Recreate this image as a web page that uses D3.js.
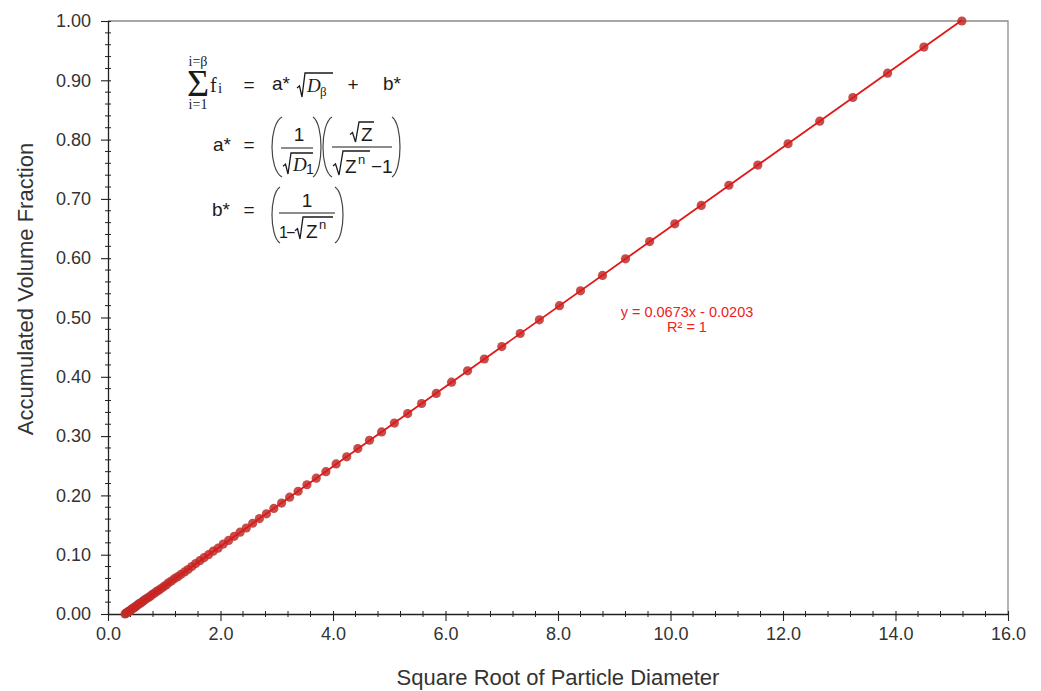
<!DOCTYPE html>
<html><head><meta charset="utf-8">
<script src="https://cdn.jsdelivr.net/npm/d3@7"></script>
<style>body{margin:0;background:#fff}svg{display:block}</style>
</head><body><svg id="c" width="1041" height="691"></svg>
<script>
// ---- data ----
const sqrtDiameter = [0.303,0.317,0.332,0.347,0.363,0.380,0.398,0.416,0.436,0.456,0.477,0.500,0.523,0.547,0.573,0.599,0.627,0.656,0.687,0.719,0.753,0.788,0.824,0.863,0.903,0.945,0.989,1.035,1.083,1.134,1.186,1.242,1.299,1.360,1.423,1.490,1.559,1.632,1.707,1.787,1.870,1.957,2.049,2.144,2.244,2.348,2.458,2.572,2.692,2.817,2.948,3.086,3.229,3.380,3.537,3.702,3.874,4.055,4.244,4.441,4.648,4.864,5.091,5.328,5.576,5.836,6.108,6.392,6.690,7.001,7.328,7.669,8.026,8.400,8.791,9.200,9.629,10.077,10.547,11.038,11.552,12.090,12.653,13.242,13.859,14.505,15.180];
const accumulatedFraction = [0.000,0.001,0.002,0.003,0.004,0.005,0.006,0.008,0.009,0.010,0.012,0.013,0.015,0.017,0.018,0.020,0.022,0.024,0.026,0.028,0.030,0.033,0.035,0.038,0.040,0.043,0.046,0.049,0.053,0.056,0.060,0.063,0.067,0.071,0.075,0.080,0.085,0.090,0.095,0.100,0.106,0.111,0.118,0.124,0.131,0.138,0.145,0.153,0.161,0.169,0.178,0.187,0.197,0.207,0.218,0.229,0.240,0.253,0.265,0.279,0.293,0.307,0.322,0.338,0.355,0.372,0.391,0.410,0.430,0.451,0.473,0.496,0.520,0.545,0.571,0.599,0.628,0.658,0.689,0.723,0.757,0.793,0.831,0.871,0.912,0.956,1.000];
const xTickValues = [0,2,4,6,8,10,12,14,16];
const yTickValues = [0,0.1,0.2,0.3,0.4,0.5,0.6,0.7,0.8,0.9,1.0];
const trendSlope = 0.0673;
const trendIntercept = -0.0203;
const trendLabel = ["y = 0.0673x - 0.0203", "R\u00B2 = 1"];
const xTitle = "Square Root of Particle Diameter";
const yTitle = "Accumulated Volume Fraction";

// ---- chart ----
const SANS = "'Liberation Sans', Arial, sans-serif";
const SERIF = "'Liberation Serif', 'Times New Roman', serif";
const svg = d3.select("#c");
const x = d3.scaleLinear().domain([0,16]).range([108,1008]);
const y = d3.scaleLinear().domain([0,1]).range([614,21]);
const X0 = x.range()[0], X1 = x.range()[1], Y0 = y.range()[0], Y1 = y.range()[1];

// frame top/right
svg.append("path").attr("d",`M${X0},${Y1}H${X1}V${Y0}`).attr("fill","none").attr("stroke","#8a8a8a").attr("stroke-width",1.3);

// axes
const xAxis = d3.axisBottom(x).tickValues(xTickValues).tickFormat(d3.format(".1f")).tickSizeInner(7).tickSizeOuter(0).tickPadding(6);
const yAxis = d3.axisLeft(y).tickValues(yTickValues).tickFormat(d3.format(".2f")).tickSizeInner(7).tickSizeOuter(0).tickPadding(10);
const gx = svg.append("g").attr("transform",`translate(0,${Y0})`).call(xAxis);
const gy = svg.append("g").attr("transform",`translate(${X0},0)`).call(yAxis);
[gx,gy].forEach(g=>{
  g.select(".domain").attr("stroke","#222").attr("stroke-width",1.3);
  g.selectAll(".tick line").attr("stroke","#222").attr("stroke-width",1.1);
  g.selectAll(".tick text").attr("fill","#333").style("font-family",SANS).style("font-size","18px");
});
// inner part of major ticks
gx.selectAll(".tick").append("line").attr("y1",0).attr("y2",-3).attr("stroke","#222").attr("stroke-width",1.1);
gy.selectAll(".tick").append("line").attr("x1",0).attr("x2",3).attr("stroke","#222").attr("stroke-width",1.1);
// minor ticks
const xMinor = d3.range(0,16.001,0.4).filter(v=>Math.abs(v/2-Math.round(v/2))>1e-6);
const yMinor = d3.range(0,1.0001,0.02).filter(v=>Math.abs(v*10-Math.round(v*10))>1e-6);
svg.append("g").selectAll("line").data(xMinor).join("line")
  .attr("x1",d=>x(d)).attr("x2",d=>x(d)).attr("y1",Y0-3).attr("y2",Y0+3).attr("stroke","#222").attr("stroke-width",1);
svg.append("g").selectAll("line").data(yMinor).join("line")
  .attr("y1",d=>y(d)).attr("y2",d=>y(d)).attr("x1",X0-3).attr("x2",X0+3).attr("stroke","#222").attr("stroke-width",1);

// titles
svg.append("text").attr("x",558).attr("y",685).attr("text-anchor","middle")
  .style("font-family",SANS).style("font-size","22px").attr("fill","#333").text(xTitle);
svg.append("text").attr("transform","translate(33,289) rotate(-90)").attr("text-anchor","middle")
  .style("font-family",SANS).style("font-size","22px").attr("fill","#333").text(yTitle);

// markers
const pts = sqrtDiameter.map((v,i)=>[v,accumulatedFraction[i]]);
svg.append("g").selectAll("circle").data(pts).join("circle")
  .attr("cx",d=>x(d[0])).attr("cy",d=>y(d[1])).attr("r",4.6)
  .attr("fill","#bb2e2c").attr("fill-opacity",0.85);

// linear trendline
const xMin = d3.min(sqrtDiameter), xMax = d3.max(sqrtDiameter);
svg.append("line")
  .attr("x1",x(xMin)).attr("y1",y(trendSlope*xMin+trendIntercept))
  .attr("x2",x(xMax)).attr("y2",y(trendSlope*xMax+trendIntercept))
  .attr("stroke","#e01818").attr("stroke-width",1.8);

// trendline label
svg.append("g").selectAll("text").data(trendLabel).join("text")
  .attr("x",687).attr("y",(d,i)=>317+i*15).attr("text-anchor","middle")
  .style("font-family",SANS).style("font-size","14.5px").attr("fill","#f02020").text(d=>d);

// ---- formula block ----
const F = svg.append("g").attr("fill","#1a1a1a");
function t(xp,yp,str,size,fam,opts={}){
  const e = F.append("text").attr("x",xp).attr("y",yp).style("font-family",fam).style("font-size",size+"px").text(str);
  if(opts.anchor) e.attr("text-anchor",opts.anchor);
  if(opts.italic) e.style("font-style","italic");
  return e;
}
function radical(x0,xTop,xEnd,yTop,yBot){
  const yMid = yBot-(yBot-yTop)*0.42;
  const xb = (x0+xTop)/2+1;
  F.append("path").attr("d",`M${x0},${yMid+1}L${x0+2.5},${yMid-1}L${xb},${yBot}L${xTop},${yTop}H${xEnd}`)
    .attr("fill","none").attr("stroke","#1a1a1a").attr("stroke-width",1.3).attr("stroke-linejoin","miter");
}
function paren(xl,xr,top,bot,left){
  const h = bot-top;
  const c = (8*xl-2*xr)/6;
  const d = left
    ? `M${xr},${top}C${c},${top+h*0.12} ${c},${bot-h*0.12} ${xr},${bot}`
    : `M${xl},${top}C${(8*xr-2*xl)/6},${top+h*0.12} ${(8*xr-2*xl)/6},${bot-h*0.12} ${xl},${bot}`;
  F.append("path").attr("d",d).attr("fill","none").attr("stroke","#444").attr("stroke-width",1.2);
}
function bar(xa,xb,yp){
  F.append("line").attr("x1",xa).attr("x2",xb).attr("y1",yp).attr("y2",yp).attr("stroke","#1a1a1a").attr("stroke-width",1);
}
// line 1
t(198,66,"i=\u03B2",14,SERIF,{anchor:"middle"});
t(198,96,"\u03A3",38,SERIF,{anchor:"middle"});
t(198,109,"i=1",14,SERIF,{anchor:"middle"});
t(210,92,"f",20,SERIF);
t(218,93,"i",15,SERIF);
t(249,91,"=",19,SANS,{anchor:"middle"});
t(272,90,"a*",19,SANS);
radical(297,305,333,73,97);
t(307,92,"D",19,SERIF,{italic:true});
t(320,96,"\u03B2",13,SERIF);
t(353,91,"+",19,SANS,{anchor:"middle"});
t(383,90,"b*",19,SANS);
// line 2
t(213,151,"a*",19,SANS);
t(249,151,"=",19,SANS,{anchor:"middle"});
paren(272,282,117,177,true);
t(299,141,"1",19,SANS,{anchor:"middle"});
bar(281,313,148);
radical(283,291,313,153,174);
t(293,171,"D",19,SERIF,{italic:true});
t(306,174,"1",14,SANS);
paren(313,321,117,177,false);
paren(323,332,117,177,true);
radical(350,359,374,122,142);
t(361,141,"Z",19,SANS);
bar(332,392,147);
radical(333,343,370,151,175);
t(345,173,"Z",19,SANS);
t(358,164,"n",13,SANS);
t(371,173,"\u22121",19,SANS);
paren(392,400,117,177,false);
// line 3
t(212,216,"b*",19,SANS);
t(249,216,"=",19,SANS,{anchor:"middle"});
paren(272,280,187,243,true);
t(307,207,"1",19,SANS,{anchor:"middle"});
bar(279,335,213);
t(279,238,"1",16,SANS);
t(286,238,"\u2212",16,SANS);
radical(295,303,333,217,239);
t(306,238,"Z",19,SANS);
t(319,229,"n",13,SANS);
paren(335,343,187,243,false);
</script></body></html>
